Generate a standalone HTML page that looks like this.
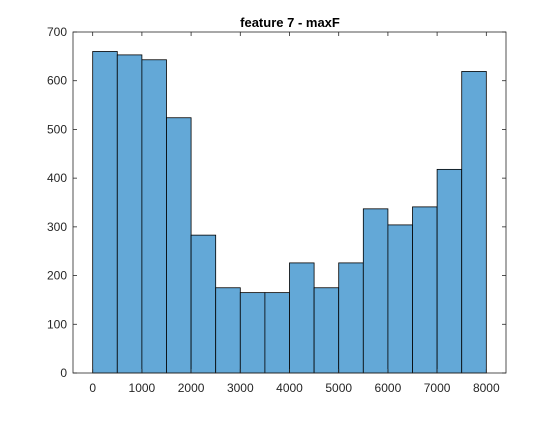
<!DOCTYPE html>
<html><head><meta charset="utf-8"><style>
body{margin:0;background:#fff;}
svg text{font-family:"Liberation Sans",sans-serif;}
</style></head><body>
<svg id="chart" width="560" height="420">
<rect width="560" height="420" fill="#fff"/>
<text x="290" y="27" text-anchor="middle" font-size="13" font-weight="bold" fill="#000">feature 7 - maxF</text>
<g id="bars"></g>
<g id="axes"></g>
</svg>
<script>
const binEdges = [0,500,1000,1500,2000,2500,3000,3500,4000,4500,5000,5500,6000,6500,7000,7500,8000];
const counts = [660,653,643,524,283,175,165,165,226,175,226,337,304,341,418,619];
const xTicks = [0,1000,2000,3000,4000,5000,6000,7000,8000];
const yTicks = [0,100,200,300,400,500,600,700];
const L=73,R=506,T=32,B=373,xmin=-400,xmax=8400,ymax=700;
const sx=v=>L+(v-xmin)/(xmax-xmin)*(R-L);
const sy=v=>B-v/ymax*(B-T);
const NS="http://www.w3.org/2000/svg";
const bars=document.getElementById('bars'),axes=document.getElementById('axes');
function mk(tag,attrs,parent){const e=document.createElementNS(NS,tag);for(const k in attrs)e.setAttribute(k,attrs[k]);parent.appendChild(e);return e;}
counts.forEach((c,i)=>{
  const r=mk('rect',{x:sx(binEdges[i]),y:sy(c),width:sx(binEdges[i+1])-sx(binEdges[i]),height:sy(0)-sy(c),fill:'#63a8d7',stroke:'#000','stroke-width':0.8},bars);
  
  
});
const box=mk('rect',{x:L,y:T,width:R-L,height:B-T,fill:'none',stroke:'#262626','stroke-width':0.8},axes);


xTicks.forEach(v=>{
  const x=sx(v);
  mk('line',{x1:x,x2:x,y1:B,y2:B-4,stroke:'#262626','stroke-width':0.8},axes);
  mk('line',{x1:x,x2:x,y1:T,y2:T+4,stroke:'#262626','stroke-width':0.8},axes);
  const t=mk('text',{x:x,y:B+19,'text-anchor':'middle','font-size':12,fill:'#262626'},axes);
  t.textContent=v;
  
  
});
yTicks.forEach(v=>{
  const y=sy(v);
  mk('line',{x1:L,x2:L+4,y1:y,y2:y,stroke:'#262626','stroke-width':0.8},axes);
  mk('line',{x1:R,x2:R-4,y1:y,y2:y,stroke:'#262626','stroke-width':0.8},axes);
  const t=mk('text',{x:L-6,y:y+4,'text-anchor':'end','font-size':12,fill:'#262626'},axes);
  t.textContent=v;
  
  
});
</script>
</body></html>
